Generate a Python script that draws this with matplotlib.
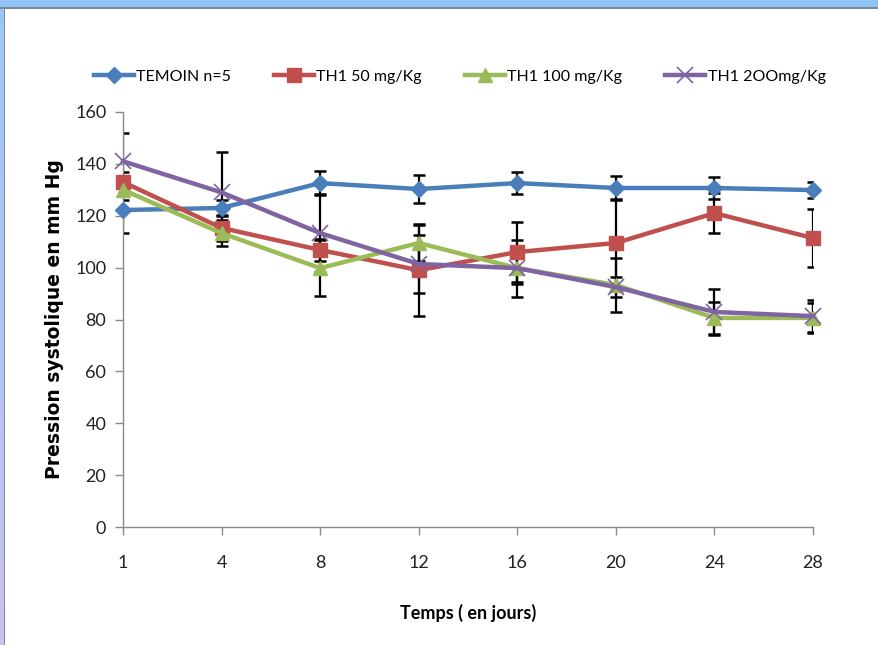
import numpy as np
import matplotlib
matplotlib.use("Agg")
import matplotlib.pyplot as plt
from matplotlib.patches import Rectangle
from matplotlib.lines import Line2D
from matplotlib.colors import LinearSegmentedColormap

days = ['1', '4', '8', '12', '16', '20', '24', '28']

temoin = [122.2, 123.0, 132.6, 130.3, 132.6, 130.7, 130.7, 129.9]
temoin_err = [9.0, 3.0, 4.6, 5.4, 4.4, 4.5, 4.3, 3.2]

th50 = [133.0, 115.3, 106.8, 99.0, 106.0, 109.5, 121.0, 111.4]
th50_err = [4.0, 5.0, 4.2, 17.7, 11.7, 17.0, 7.7, 11.3]

th100 = [130.0, 113.3, 99.8, 109.5, 99.8, 93.3, 80.6, 80.6]
th100_err = [4.0, 5.0, 10.8, 6.9, 6.0, 10.4, 6.2, 5.8]

th200 = [141.0, 129.0, 113.3, 101.4, 99.8, 92.5, 82.9, 81.3]
th200_err = [11.0, 15.6, 15.0, 11.2, 11.0, 4.0, 9.0, 6.2]

labels = ['TEMOIN n=5', 'TH1 50 mg/Kg', 'TH1 100 mg/Kg', 'TH1 2OOmg/Kg']
colors = ['#4A7EBB', '#C0504D', '#9BBB59', '#8064A2']
markers = ['D', 's', '^', 'x']
msizes = [8, 10, 10, 11]

FONT = 'Lato'

W, H = 879, 645
fig = plt.figure(figsize=(W / 100, H / 100), dpi=100)
fig.patch.set_facecolor('white')

# window frame decorations
fig.patches.append(Rectangle((0, 1 - 7 / H), 1, 7 / H, transform=fig.transFigure,
                             facecolor='#90C3F8', edgecolor='none', zorder=0))
fig.patches.append(Rectangle((0, 1 - 9 / H), 1, 2 / H, transform=fig.transFigure,
                             facecolor='#7E8A96', edgecolor='none', zorder=0))
gax = fig.add_axes([0, 0, 4 / W, 1 - 7 / H])
grad = np.linspace(0, 1, 256).reshape(-1, 1)
cm = LinearSegmentedColormap.from_list('strip', ['#9CC6F6', '#C9C3EC'])
gax.imshow(grad, aspect='auto', cmap=cm)
gax.set_axis_off()
fig.patches.append(Rectangle((4 / W, 0), 1.5 / W, 1 - 7 / H, transform=fig.transFigure,
                             facecolor='#7E8A96', edgecolor='none', zorder=0))

ax = fig.add_axes([123 / W, 1 - 527 / H, (813 - 123) / W, (527 - 112) / H])
x = np.arange(len(days))

series = [temoin, th50, th100, th200]
errs = [temoin_err, th50_err, th100_err, th200_err]
for s, e in zip(series, errs):
    ax.errorbar(x, s, yerr=e, fmt='none', ecolor='black', elinewidth=1.6,
                capsize=4, capthick=1.8, zorder=2)
for s, c, m, ms, lab in zip(series, colors, markers, msizes, labels):
    mew = 1.2 if m == 'x' else 1
    ax.plot(x, s, color=c, linewidth=3.2, marker=m, markersize=ms,
            markeredgewidth=mew, label=lab, zorder=3, clip_on=False)

ax.set_xlim(0, 7)
ax.set_ylim(0, 160)
ax.set_yticks(np.arange(0, 161, 20))
ax.set_xticks(x)
ax.set_xticklabels(days)
for sp in ['top', 'right']:
    ax.spines[sp].set_visible(False)
for sp in ['left', 'bottom']:
    ax.spines[sp].set_color('#8A8A8A')
    ax.spines[sp].set_linewidth(1.0)
ax.tick_params(axis='both', colors='#8A8A8A', length=6, width=1.0,
               labelcolor='#222222', labelsize=13)
ax.tick_params(axis='x', pad=14)
ax.tick_params(axis='y', pad=6)
for lbl in ax.get_xticklabels() + ax.get_yticklabels():
    lbl.set_fontfamily(FONT)

ax.set_ylabel('Pression systolique en mm Hg', fontsize=13.5, fontweight='bold',
              fontfamily='DejaVu Sans', labelpad=8)
ax.set_xlabel('Temps ( en jours)', fontsize=13, fontweight='bold',
              fontfamily=FONT, labelpad=24)

handles = [Line2D([0], [0], color=c, linewidth=3.2, marker=m, markersize=ms,
                  markeredgewidth=(1.2 if m == 'x' else 1))
           for c, m, ms in zip(colors, markers, msizes)]
fig.legend(handles, labels, loc='center', bbox_to_anchor=(0.523, 1 - 77 / H),
           ncol=4, frameon=False, handlelength=2.5, columnspacing=2.7,
           handletextpad=0.15, prop={'family': FONT, 'size': 11.5})

fig.savefig('out.png', dpi=100, facecolor='white')
